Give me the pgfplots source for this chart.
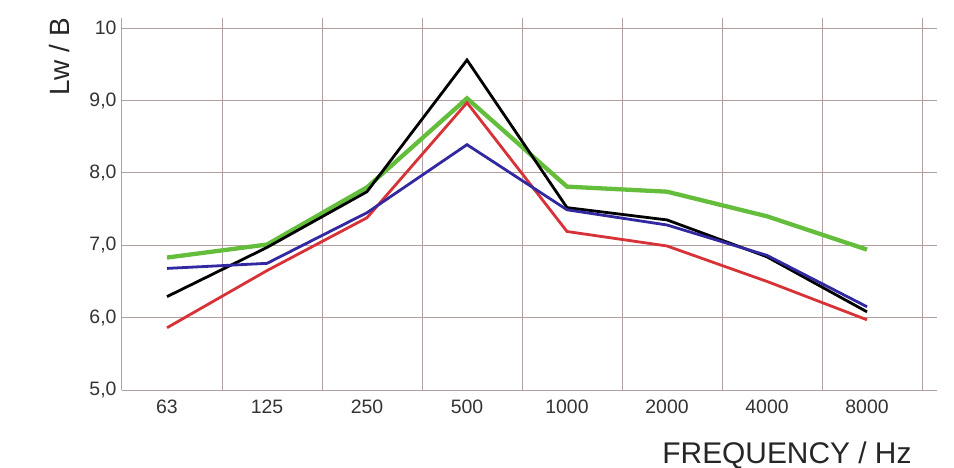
\documentclass[border=0pt]{standalone}
\usepackage{pgfplots}
\pgfplotsset{compat=1.18}
\usepackage{fontspec}
\setmainfont{Liberation Sans}
\definecolor{gridc}{RGB}{176,160,160}
\definecolor{cgreen}{RGB}{100,190,60}
\definecolor{cblue}{RGB}{50,40,160}
\definecolor{cred}{RGB}{215,50,55}
\begin{document}
\begin{tikzpicture}
\path[use as bounding box] (-122bp,-78bp) rectangle (832bp,390bp);
\begin{axis}[
  scale only axis,
  width=815bp, height=372bp,
  xmin=-0.45, xmax=7.70,
  ymin=5, ymax=10.14,
  axis x line=bottom, axis y line=left,
  axis line style={gridc, line width=1bp, -},
  xtick={0,1,2,3,4,5,6,7},
  xticklabels={63,125,250,500,1000,2000,4000,8000},
  extra x ticks={0.55,1.55,2.55,3.55,4.55,5.55,6.55,7.55},
  extra x tick labels={},
  extra x tick style={grid=major, major tick length=0pt},
  ytick={5,6,7,8,9,10},
  yticklabels={{5,0},{6,0},{7,0},{8,0},{9,0},10},
  ymajorgrids,
  grid style={gridc, line width=1bp},
  major tick length=0pt,
  tick label style={font=\fontsize{19.5}{21}\selectfont, text=black!80},
  xticklabel style={yshift=-6bp},
  yticklabel style={xshift=-2bp},
  clip=false,
]
\addplot[cgreen, line width=4.3bp] coordinates {(0,6.83) (1,7.01) (2,7.80) (3,9.03) (4,7.81) (5,7.74) (6,7.40) (7,6.94)};
\addplot[black, line width=2.8bp] coordinates {(0,6.29) (1,6.97) (2,7.74) (3,9.56) (4,7.52) (5,7.35) (6,6.84) (7,6.08)};
\addplot[cred, line width=2.8bp] coordinates {(0,5.86) (1,6.65) (2,7.38) (3,8.97) (4,7.19) (5,6.99) (6,6.50) (7,5.97)};
\addplot[cblue, line width=2.8bp] coordinates {(0,6.68) (1,6.75) (2,7.45) (3,8.39) (4,7.49) (5,7.28) (6,6.86) (7,6.15)};
\node[rotate=90, anchor=base east, inner sep=0pt, font=\fontsize{28}{30}\selectfont, text=black!85] at (axis description cs:-0.064,1) {Lw / B};
\node[anchor=base east, inner sep=0pt, font=\fontsize{30}{33}\selectfont, text=black!85] at (axis description cs:0.969,-0.197) {FREQUENCY / Hz};
\end{axis}
\end{tikzpicture}
\end{document}
